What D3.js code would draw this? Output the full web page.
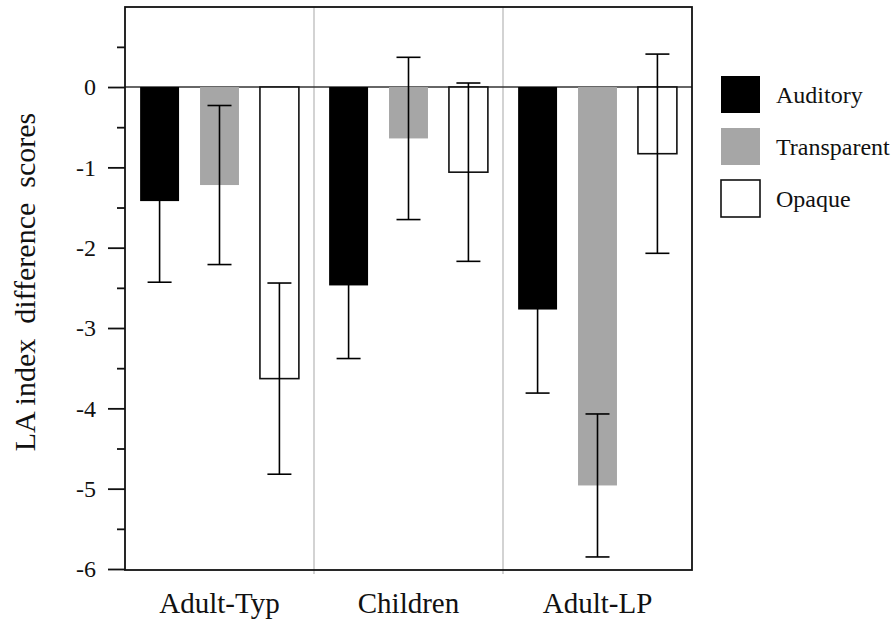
<!DOCTYPE html>
<html>
<head>
<meta charset="utf-8">
<script src="https://cdn.jsdelivr.net/npm/d3@7"></script>
<style>
  html, body { margin: 0; padding: 0; background: #fff; }
  svg { display: block; }
</style>
</head>
<body>
<svg id="chart" width="896" height="622"></svg>
<script>
// Groups on the x axis
const groups = ["Adult-Typ", "Children", "Adult-LP"];
// Conditions (bar series)
const series = ["Auditory", "Transparent", "Opaque"];
// Mean LA index difference scores per condition, one entry per group
const auditory    = [-1.42, -2.47, -2.77];
const transparent = [-1.22, -0.64, -4.96];
const opaque      = [-3.63, -1.06, -0.83];
// Error-bar half widths
const auditoryErr    = [1.01, 0.91, 1.04];
const transparentErr = [0.99, 1.01, 0.89];
const opaqueErr      = [1.19, 1.11, 1.24];
// Y axis ticks
const majorTicks = [0, -1, -2, -3, -4, -5, -6];
const minorTicks = [0.5, -0.5, -1.5, -2.5, -3.5, -4.5, -5.5];
const yLabel = "LA index  difference  scores";

const FONT = "Liberation Serif";
const values = { Auditory: auditory, Transparent: transparent, Opaque: opaque };
const errors = { Auditory: auditoryErr, Transparent: transparentErr, Opaque: opaqueErr };
const fills  = { Auditory: "#000000", Transparent: "#a6a6a6", Opaque: "#ffffff" };
const strokes = { Auditory: "#000000", Transparent: "none", Opaque: "#111111" };

const rows = [];
groups.forEach((g, i) => series.forEach(s => rows.push({ group: g, series: s, value: values[s][i], err: errors[s][i] })));

const svg = d3.select("#chart");
const plotLeft = 125, plotRight = 692, plotTop = 7, plotBottom = 570;

const y = d3.scaleLinear().domain([-6, 1]).range([569, 6.7]);
const x = d3.scaleBand().domain(groups).range([plotLeft, plotRight]).padding(0);
const bw = x.bandwidth();
const step = bw * 0.317;
const xs = d3.scaleBand().domain(series)
  .range([bw / 2 - 1.5 * step, bw / 2 + 1.5 * step])
  .paddingInner(0.35).paddingOuter(0.175);

// Group separators
svg.append("g").selectAll("line")
  .data(groups.slice(1))
  .join("line")
  .attr("x1", d => x(d)).attr("x2", d => x(d))
  .attr("y1", plotTop).attr("y2", plotBottom + 4)
  .attr("stroke", "#c8c8c8").attr("stroke-width", 1.6);

// Zero reference line
svg.append("line")
  .attr("x1", plotLeft).attr("x2", plotRight)
  .attr("y1", y(0)).attr("y2", y(0))
  .attr("stroke", "#333").attr("stroke-width", 1.6);

// Bars
svg.append("g").selectAll("rect")
  .data(rows)
  .join("rect")
  .attr("x", d => x(d.group) + xs(d.series))
  .attr("width", xs.bandwidth())
  .attr("y", d => y(Math.max(0, d.value)))
  .attr("height", d => Math.abs(y(d.value) - y(0)))
  .attr("fill", d => fills[d.series])
  .attr("stroke", d => strokes[d.series])
  .attr("stroke-width", d => d.series === "Opaque" ? 1.6 : 0);

// Error bars
const errG = svg.append("g").attr("stroke", "#000").attr("stroke-width", 1.6);
rows.forEach(d => {
  const cx = x(d.group) + xs(d.series) + xs.bandwidth() / 2;
  errG.append("line").attr("x1", cx).attr("x2", cx)
    .attr("y1", y(d.value + d.err)).attr("y2", y(d.value - d.err));
  [d.value + d.err, d.value - d.err].forEach(v => {
    errG.append("line").attr("x1", cx - 12).attr("x2", cx + 12)
      .attr("y1", y(v)).attr("y2", y(v));
  });
});

// Frame
svg.append("rect")
  .attr("x", plotLeft).attr("y", plotTop)
  .attr("width", plotRight - plotLeft).attr("height", plotBottom - plotTop)
  .attr("fill", "none").attr("stroke", "#111").attr("stroke-width", 1.8);

// Y axis with major and minor ticks
const yAxis = d3.axisLeft(y).tickValues(majorTicks).tickSize(17).tickPadding(12).tickFormat(d3.format("d"));
const ya = svg.append("g").attr("transform", `translate(${plotLeft},0)`).call(yAxis);
ya.select(".domain").remove();
ya.selectAll(".tick line").attr("stroke", "#111").attr("stroke-width", 1.8);
ya.selectAll(".tick text")
  .attr("font-family", FONT).attr("font-size", 24)
  .attr("fill", "#111").text(d => String(d));

const yMinor = d3.axisLeft(y).tickValues(minorTicks).tickSize(8).tickFormat("");
const ym = svg.append("g").attr("transform", `translate(${plotLeft},0)`).call(yMinor);
ym.select(".domain").remove();
ym.selectAll(".tick line").attr("stroke", "#111").attr("stroke-width", 1.8);

// X axis category labels
const xAxis = d3.axisBottom(x).tickSize(0).tickPadding(22);
const xa = svg.append("g").attr("transform", `translate(0,${plotBottom})`).call(xAxis);
xa.select(".domain").remove();
xa.selectAll(".tick text")
  .attr("font-family", FONT).attr("font-size", 29)
  .attr("fill", "#111");

// Y axis title
svg.append("text")
  .attr("transform", "translate(35,282) rotate(-90)")
  .attr("text-anchor", "middle")
  .attr("font-family", FONT).attr("font-size", 30)
  .attr("fill", "#111")
  .style("white-space", "pre")
  .text(yLabel);

// Legend
const legend = svg.append("g").attr("transform", "translate(721,76)");
const item = legend.selectAll("g").data(series).join("g")
  .attr("transform", (d, i) => `translate(0,${i * 52})`);
item.append("rect")
  .attr("width", 39).attr("height", 37)
  .attr("fill", d => fills[d])
  .attr("stroke", d => strokes[d])
  .attr("stroke-width", d => d === "Opaque" ? 1.6 : 0);
item.append("text")
  .attr("x", 55).attr("y", 19).attr("dy", "0.35em")
  .attr("font-family", FONT).attr("font-size", 24)
  .attr("fill", "#111")
  .text(d => d);
</script>
</body>
</html>
